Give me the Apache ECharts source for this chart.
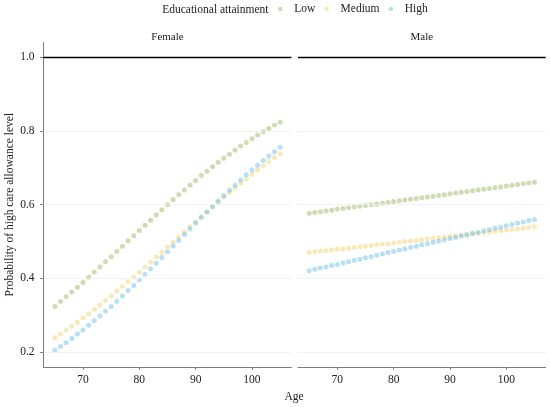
<!DOCTYPE html>
<html>
<head>
<meta charset="utf-8">
<script src="https://cdn.jsdelivr.net/npm/echarts@6/dist/echarts.min.js"></script>
<style>html,body{margin:0;padding:0;background:#fff}#c{width:550px;height:407px}</style>
</head>
<body>
<div id="c"></div>
<script>
var ages = [65,66,67,68,69,70,71,72,73,74,75,76,77,78,79,80,81,82,83,84,85,86,87,88,89,90,91,92,93,94,95,96,97,98,99,100,101,102,103,104,105];
var panels = ['Female', 'Male'];
var levels = ['Low', 'Medium', 'High'];
var femaleLow = [0.324,0.337,0.350,0.363,0.376,0.389,0.403,0.417,0.431,0.445,0.459,0.473,0.487,0.502,0.516,0.530,0.544,0.558,0.572,0.586,0.600,0.614,0.627,0.640,0.653,0.666,0.679,0.691,0.703,0.715,0.726,0.737,0.748,0.759,0.769,0.779,0.789,0.798,0.807,0.816,0.824];
var femaleMedium = [0.239,0.249,0.260,0.270,0.281,0.293,0.304,0.316,0.328,0.340,0.352,0.365,0.378,0.391,0.404,0.417,0.431,0.444,0.458,0.471,0.485,0.499,0.512,0.526,0.540,0.553,0.567,0.580,0.594,0.607,0.620,0.633,0.645,0.658,0.670,0.682,0.694,0.705,0.717,0.728,0.738];
var femaleHigh = [0.205,0.215,0.226,0.237,0.249,0.260,0.273,0.285,0.298,0.311,0.324,0.338,0.352,0.367,0.381,0.396,0.411,0.426,0.441,0.457,0.472,0.488,0.503,0.519,0.534,0.550,0.565,0.580,0.595,0.610,0.625,0.639,0.653,0.667,0.681,0.694,0.707,0.720,0.732,0.744,0.756];
var maleLow = [0.577,0.579,0.581,0.583,0.585,0.588,0.590,0.592,0.594,0.596,0.598,0.600,0.602,0.604,0.606,0.609,0.611,0.613,0.615,0.617,0.619,0.621,0.623,0.625,0.627,0.630,0.632,0.634,0.636,0.638,0.640,0.642,0.644,0.646,0.648,0.651,0.653,0.655,0.657,0.659,0.661];
var maleMedium = [0.470,0.472,0.474,0.475,0.477,0.479,0.480,0.482,0.484,0.486,0.487,0.489,0.491,0.493,0.494,0.496,0.498,0.500,0.501,0.503,0.505,0.507,0.508,0.510,0.512,0.514,0.515,0.517,0.519,0.521,0.522,0.524,0.526,0.527,0.529,0.531,0.533,0.534,0.536,0.538,0.540];
var maleHigh = [0.421,0.425,0.428,0.431,0.435,0.438,0.442,0.445,0.449,0.452,0.456,0.459,0.463,0.466,0.470,0.473,0.477,0.480,0.484,0.487,0.491,0.494,0.498,0.501,0.504,0.508,0.511,0.515,0.518,0.522,0.525,0.529,0.532,0.536,0.539,0.543,0.546,0.550,0.553,0.557,0.560];
var xTicks = [70, 80, 90, 100];
var yTicks = [0.2, 0.4, 0.6, 0.8, 1.0];
var gridValues = [0.2, 0.4, 0.6, 0.8];
var refValue = 1.0;

var colors = ['rgba(155,180,95,0.6)', 'rgba(240,208,110,0.6)', 'rgba(105,188,235,0.6)'];
var FONT = '"Liberation Serif", "Times New Roman", serif';

function pairs(vals) { return ages.map(function (a, i) { return [a, vals[i]]; }); }
var panelData = [[femaleLow, femaleMedium, femaleHigh], [maleLow, maleMedium, maleHigh]];

var grids = [
  {left: 43.6, top: 42.6, width: 247.8, height: 324.2},
  {left: 297.9, top: 42.6, width: 247.8, height: 324.2}
];
var axisColor = '#7a7a7a';
var xAxes = [0, 1].map(function (g) {
  return {
    type: 'value', gridIndex: g, min: 63, max: 107,
    axisLine: {show: true, lineStyle: {color: axisColor, width: 1}},
    axisTick: {show: true, length: 3, lineStyle: {color: axisColor}, customValues: xTicks},
    axisLabel: {show: true, margin: 7, color: '#222', fontFamily: FONT, fontSize: 11.5, customValues: xTicks},
    splitLine: {show: false}
  };
});
var yAxes = [0, 1].map(function (g) {
  return {
    type: 'value', gridIndex: g, min: 0.16, max: 1.04,
    name: g === 0 ? 'Probability of high care allowance level' : '',
    nameLocation: 'middle', nameGap: 28, nameRotate: 90,
    nameTextStyle: {fontFamily: FONT, fontSize: 11.5, color: '#222'},
    axisLine: {show: g === 0, lineStyle: {color: axisColor, width: 1}},
    axisTick: {show: g === 0, length: 3.5, lineStyle: {color: axisColor}, customValues: yTicks},
    axisLabel: {show: g === 0, margin: 9, color: '#222', fontFamily: FONT, fontSize: 11.5, customValues: yTicks,
      formatter: function (v) { return v.toFixed(1); }},
    splitLine: {show: false}
  };
});

var series = [];
[0, 1].forEach(function (g) {
  series.push({
    type: 'scatter', xAxisIndex: g, yAxisIndex: g, data: [], z: 1, silent: true,
    markLine: {silent: true, symbol: 'none', label: {show: false}, animation: false,
      lineStyle: {color: '#efefef', width: 0.8, type: 'solid'},
      data: gridValues.map(function (v) { return {yAxis: v}; })}
  });
  series.push({
    type: 'scatter', xAxisIndex: g, yAxisIndex: g, data: [], z: 3, silent: true,
    markLine: {silent: true, symbol: 'none', label: {show: false}, animation: false,
      lineStyle: {color: '#000', width: 1.3, type: 'solid'},
      data: [{yAxis: refValue}]}
  });
  levels.forEach(function (lv, k) {
    series.push({
      name: lv, type: 'scatter', xAxisIndex: g, yAxisIndex: g, z: 2,
      symbol: 'circle', symbolSize: 5,
      itemStyle: {color: colors[k]},
      data: pairs(panelData[g][k])
    });
  });
});

var chart = echarts.init(document.getElementById('c'));
chart.setOption({
  animation: false,
  backgroundColor: '#fff',
  grid: grids,
  xAxis: xAxes,
  yAxis: yAxes,
  legend: {
    left: 278, top: 3, padding: 0, orient: 'horizontal',
    itemWidth: 18, itemHeight: 4.5, itemGap: 9,
    data: levels.map(function (l) { return {name: l, icon: 'circle'}; }),
    textStyle: {fontFamily: FONT, fontSize: 11.5, color: '#222'}
  },
  graphic: [
    {type: 'text', x: 268.5, y: 10, style: {text: 'Educational attainment', font: '11.5px ' + FONT, fill: '#222', align: 'right', verticalAlign: 'middle'}},
    {type: 'text', x: 167.5, y: 36.7, style: {text: panels[0], font: '11px ' + FONT, fill: '#222', align: 'center', verticalAlign: 'middle'}},
    {type: 'text', x: 421.8, y: 36.7, style: {text: panels[1], font: '11px ' + FONT, fill: '#222', align: 'center', verticalAlign: 'middle'}},
    {type: 'text', x: 294, y: 396.5, style: {text: 'Age', font: '11.5px ' + FONT, fill: '#222', align: 'center', verticalAlign: 'middle'}}
  ],
  series: series
});
</script>
</body>
</html>
